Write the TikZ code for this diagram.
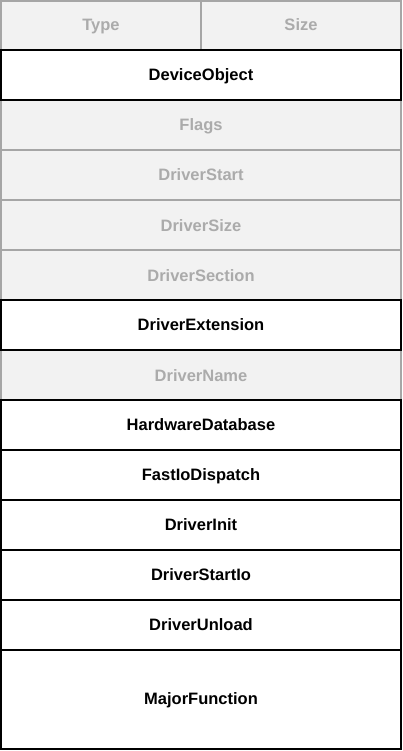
\documentclass[tikz,border=0pt]{standalone}
\usepackage{fontspec}
\setmainfont{Liberation Sans}
\definecolor{gfill}{HTML}{F2F2F2}
\definecolor{gline}{HTML}{A6A6A6}
\definecolor{gtext}{HTML}{ABABAB}
\tikzset{
  greybox/.style={draw=gline, fill=gfill, line width=2pt},
  blackbox/.style={draw=black, fill=white, line width=2pt},
  greytext/.style={anchor=base, inner sep=0pt, text=gtext, font=\bfseries\fontsize{16.5}{19}\selectfont},
  blacktext/.style={anchor=base, inner sep=0pt, text=black, font=\bfseries\fontsize{16.5}{19}\selectfont},
}
\begin{document}
\begin{tikzpicture}[x=1pt,y=-1pt]
\useasboundingbox (0,0) rectangle (403,751);
\fill[white] (0,0) rectangle (403,751);
% grey rows
\draw[greybox] (1,1) rectangle (201,50);
\node[greytext] (type) at (101,31) {Type};
\draw[greybox] (201,1) rectangle (401,50);
\node[greytext] (size) at (301,31) {Size};
\draw[greybox] (1,100) rectangle (401,150);
\node[greytext] (flags) at (201,131) {Flags};
\draw[greybox] (1,150) rectangle (401,200);
\node[greytext] (dstart) at (201,181) {DriverStart};
\draw[greybox] (1,200) rectangle (401,250);
\node[greytext] (dsize) at (201,231) {DriverSize};
\draw[greybox] (1,250) rectangle (401,300);
\node[greytext] (dsect) at (201,281) {DriverSection};
\draw[greybox] (1,350) rectangle (401,400);
\node[greytext] (dname) at (201,381) {DriverName};
% black rows
\draw[blackbox] (1,50) rectangle (401,100);
\node[blacktext] (devobj) at (201,80.5) {DeviceObject};
\draw[blackbox] (1,300) rectangle (401,350);
\node[blacktext] (dext) at (201,330.5) {DriverExtension};
\draw[blackbox] (1,400) rectangle (401,450);
\node[blacktext] (hwdb) at (201,430.5) {HardwareDatabase};
\draw[blackbox] (1,450) rectangle (401,500);
\node[blacktext] (fastio) at (201,480.5) {FastIoDispatch};
\draw[blackbox] (1,500) rectangle (401,550);
\node[blacktext] (dinit) at (201,530.5) {DriverInit};
\draw[blackbox] (1,550) rectangle (401,600);
\node[blacktext] (dstartio) at (201,580.5) {DriverStartIo};
\draw[blackbox] (1,600) rectangle (401,650);
\node[blacktext] (dunload) at (201,630.5) {DriverUnload};
\draw[blackbox] (1,650) rectangle (401,749);
\node[blacktext] (major) at (201,704) {MajorFunction};
\end{tikzpicture}
\end{document}
